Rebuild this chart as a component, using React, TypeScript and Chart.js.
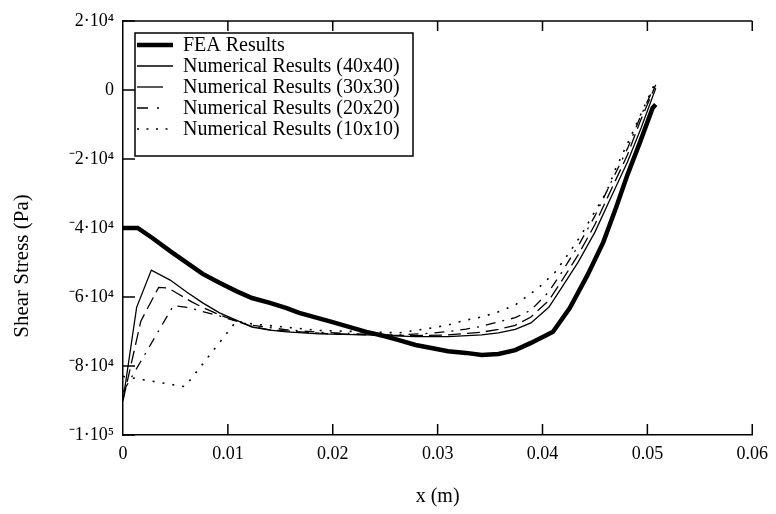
import React, { useEffect, useRef } from 'react';
import { Chart, registerables } from 'chart.js';

Chart.register(...registerables);

const FONT = '"Liberation Serif", "Times New Roman", Times, serif';

// ---- axes ----
const xTicks = [0, 0.01, 0.02, 0.03, 0.04, 0.05, 0.06];
const xTickLabels = ['0', '0.01', '0.02', '0.03', '0.04', '0.05', '0.06'];
const yTicks = [20000, 0, -20000, -40000, -60000, -80000, -100000];
const yTickLabels = ['2·10⁴', '0', '⁻2·10⁴', '⁻4·10⁴', '⁻6·10⁴', '⁻8·10⁴', '⁻1·10⁵'];
const xTitle = 'x (m)';
const yTitle = 'Shear Stress (Pa)';

// ---- series ----
const seriesNames = [
  'FEA Results',
  'Numerical Results (40x40)',
  'Numerical Results (30x30)',
  'Numerical Results (20x20)',
  'Numerical Results (10x10)',
];

const feaX = [0, 0.0014, 0.0028, 0.0045, 0.0061, 0.0076, 0.0092, 0.0108, 0.0123, 0.014, 0.0156, 0.0168, 0.0199, 0.0232, 0.0249, 0.0263, 0.0279, 0.0294, 0.031, 0.0327, 0.0342, 0.0358, 0.0374, 0.0389, 0.0404, 0.041, 0.0426, 0.0443, 0.0458, 0.047, 0.0481, 0.0493, 0.0505, 0.0508];
const feaY = [-40000, -40000, -42900, -46700, -50100, -53300, -55900, -58300, -60300, -61700, -63200, -64600, -67200, -70100, -71300, -72500, -73900, -74800, -75700, -76200, -76800, -76500, -75400, -73300, -71000, -70100, -63200, -53600, -44100, -34200, -24600, -15100, -5200, -4200];

const n40X = [0, 0.0013, 0.0027, 0.0045, 0.0061, 0.0076, 0.0092, 0.0108, 0.0123, 0.014, 0.0156, 0.0187, 0.0232, 0.0279, 0.031, 0.0342, 0.0358, 0.0374, 0.0389, 0.0406, 0.0418, 0.0434, 0.045, 0.0465, 0.0481, 0.0494, 0.0508];
const n40Y = [-90000, -63000, -52200, -55100, -58600, -61700, -64600, -66700, -68700, -69600, -70100, -70700, -71000, -71500, -71500, -71000, -70400, -69400, -67500, -63000, -57400, -49900, -41200, -31300, -20900, -11000, 500];

const n30X = [0, 0.0017, 0.0034, 0.0043, 0.0052, 0.0066, 0.0076, 0.0092, 0.0108, 0.0123, 0.014, 0.0187, 0.0232, 0.0279, 0.031, 0.0342, 0.0358, 0.0374, 0.0389, 0.0406, 0.0418, 0.0434, 0.045, 0.0465, 0.0481, 0.0493, 0.0508];
const n30Y = [-90000, -67000, -57200, -57400, -59000, -61500, -63000, -65200, -67000, -68500, -69500, -70500, -71000, -71200, -71000, -70200, -69400, -68200, -65800, -61000, -55500, -47800, -39000, -29200, -18800, -9200, 1500];

const n20X = [0, 0.0048, 0.0061, 0.0076, 0.0092, 0.0108, 0.0123, 0.0156, 0.0187, 0.0232, 0.0263, 0.0294, 0.031, 0.0327, 0.0342, 0.0358, 0.0374, 0.0389, 0.0406, 0.0418, 0.0434, 0.045, 0.0465, 0.0481, 0.0493, 0.0508];
const n20Y = [-87500, -62500, -63000, -64200, -65500, -67000, -68200, -69500, -70200, -70800, -71000, -70500, -70000, -69300, -68500, -67200, -66000, -63800, -58500, -53000, -45200, -36500, -27000, -17000, -8000, 2000];

const n10X = [0, 0.0059, 0.0108, 0.0123, 0.0187, 0.0232, 0.0263, 0.0294, 0.031, 0.0327, 0.0342, 0.0358, 0.0374, 0.0396, 0.0412, 0.0424, 0.0437, 0.0448, 0.0461, 0.047, 0.0484, 0.0499, 0.0508];
const n10Y = [-83000, -86000, -67000, -67800, -69700, -70100, -70400, -69000, -68100, -66700, -65800, -64300, -62300, -57400, -52800, -47800, -42000, -36200, -29600, -22600, -13600, -3500, 2500];

const seriesX = [feaX, n40X, n30X, n20X, n10X];
const seriesY = [feaY, n40Y, n30Y, n20Y, n10Y];

// ---- styles ----
const lineWidths = [4.5, 1.3, 1.3, 1.3, 1.6];
const lineDashes: number[][] = [[], [], [13, 6], [10, 7, 2, 7], [2, 8]];
const legendDashes: number[][] = [[], [], [26, 40], [11, 9, 2, 40], [2, 7.5]];

const framePlugin = {
  id: 'frameAndLegend',
  afterDraw(chart: any) {
    const { ctx, chartArea, scales } = chart;
    const { left, right, top, bottom } = chartArea;
    const xs = scales.x;
    const ys = scales.y;
    ctx.save();
    ctx.strokeStyle = '#000';
    ctx.lineWidth = 1.5;
    ctx.setLineDash([]);
    // top frame line
    ctx.beginPath();
    ctx.moveTo(left, top);
    ctx.lineTo(right, top);
    ctx.stroke();
    // inward ticks
    ctx.beginPath();
    xTicks.forEach((v) => {
      if (v === 0) return;
      const px = xs.getPixelForValue(v);
      ctx.moveTo(px, bottom);
      ctx.lineTo(px, bottom - 11);
      ctx.moveTo(px, top);
      ctx.lineTo(px, top + 10);
    });
    yTicks.forEach((v) => {
      const py = ys.getPixelForValue(v);
      ctx.moveTo(left, py);
      ctx.lineTo(left + 12, py);
    });
    ctx.stroke();

    // legend
    const bx = left + 12;
    const by = top + 12;
    const bw = 278;
    const bh = 123;
    ctx.fillStyle = '#fff';
    ctx.fillRect(bx, by, bw, bh);
    ctx.lineWidth = 1.5;
    ctx.strokeRect(bx, by, bw, bh);
    ctx.font = `20px ${FONT}`;
    ctx.textAlign = 'left';
    ctx.textBaseline = 'middle';
    ctx.fillStyle = '#000';
    seriesNames.forEach((name, i) => {
      const ry = by + 12 + i * 21;
      ctx.save();
      ctx.lineWidth = lineWidths[i];
      ctx.setLineDash(legendDashes[i]);
      ctx.beginPath();
      ctx.moveTo(bx + 2, ry);
      ctx.lineTo(bx + 38, ry);
      ctx.stroke();
      ctx.restore();
      ctx.fillText(name, bx + 48, ry + 1);
    });

    // axis titles
    ctx.font = `20px ${FONT}`;
    ctx.textAlign = 'center';
    ctx.textBaseline = 'middle';
    ctx.fillText(xTitle, (left + right) / 2, 497);
    ctx.save();
    ctx.translate(22, 266);
    ctx.rotate(-Math.PI / 2);
    ctx.font = `21px ${FONT}`;
    ctx.fillText(yTitle, 0, 0);
    ctx.restore();
    ctx.restore();
  },
};

export default function App() {
  const ref = useRef<HTMLCanvasElement>(null);
  useEffect(() => {
    if (!ref.current) return;
    Chart.defaults.font.family = FONT;
    const datasets = seriesNames.map((name, i) => ({
      label: name,
      data: seriesX[i].map((x, j) => ({ x, y: seriesY[i][j] })),
      borderColor: '#000',
      backgroundColor: '#000',
      borderWidth: lineWidths[i],
      borderDash: lineDashes[i],
      pointRadius: 0,
      tension: 0,
      fill: false,
    }));
    const chart = new Chart(ref.current, {
      type: 'line',
      data: { datasets },
      plugins: [framePlugin],
      options: {
        animation: false,
        responsive: false,
        devicePixelRatio: 1,
        layout: { padding: { top: 21, right: 21, left: 0, bottom: 0 } },
        plugins: { legend: { display: false }, tooltip: { enabled: false } },
        scales: {
          x: {
            type: 'linear',
            min: 0,
            max: 0.06,
            afterFit: (s: any) => { s.height = 79; },
            afterBuildTicks: (s: any) => { s.ticks = xTicks.map((v) => ({ value: v })); },
            ticks: {
              padding: 8,
              color: '#000',
              font: { family: FONT, size: 18 },
              maxRotation: 0,
              callback: (v: any) => {
                const i = xTicks.findIndex((t) => Math.abs(t - Number(v)) < 1e-9);
                return i >= 0 ? xTickLabels[i] : '';
              },
            },
            grid: { display: false, drawTicks: false },
            border: { display: true, color: '#000', width: 1.5 },
          },
          y: {
            type: 'linear',
            min: -100000,
            max: 20000,
            afterFit: (s: any) => { s.width = 123; },
            afterBuildTicks: (s: any) => { s.ticks = yTicks.map((v) => ({ value: v })); },
            ticks: {
              padding: 9,
              color: '#000',
              font: { family: FONT, size: 18 },
              callback: (v: any) => {
                const i = yTicks.findIndex((t) => Math.abs(t - Number(v)) < 1e-6);
                return i >= 0 ? yTickLabels[i] : '';
              },
            },
            grid: { display: false, drawTicks: false },
            border: { display: true, color: '#000', width: 1.5 },
          },
        },
      },
    });
    return () => chart.destroy();
  }, []);
  return (
    <div style={{ position: 'fixed', left: 0, top: 0, width: 776, height: 514, background: '#fff' }}>
      <canvas ref={ref} width={776} height={514} style={{ width: 776, height: 514, display: 'block' }} />
    </div>
  );
}
